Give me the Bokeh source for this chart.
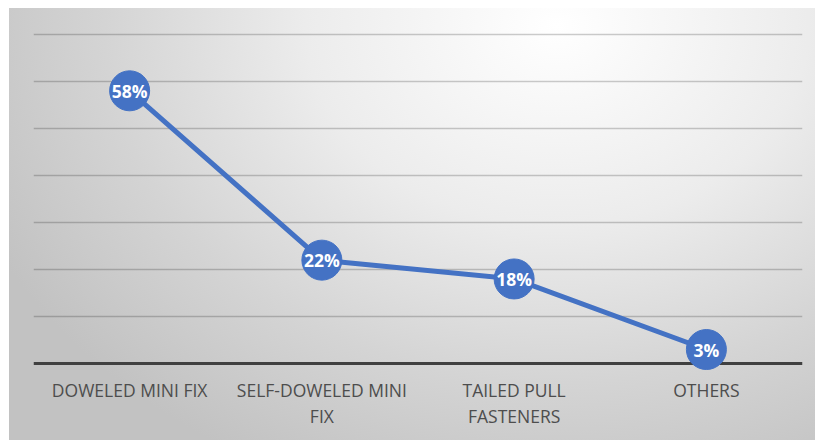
from bokeh.plotting import figure
from bokeh.models import ColumnDataSource, Range1d, FixedTicker, Span
from bokeh.core.properties import value
from bokeh.embed import file_html
from bokeh.resources import INLINE

# Share of each fastener type (percent)
categories = ["DOWELED MINI FIX", "SELF-DOWELED MINI\nFIX", "TAILED PULL\nFASTENERS", "OTHERS"]
shares = [58, 22, 18, 3]
grid_ticks = [10, 20, 30, 40, 50, 60, 70]

source = ColumnDataSource(dict(
    cat=categories,
    share=shares,
    label=[f"{v}%" for v in shares],
))

BLUE = "#4472C4"

panel_bg = {
    "background-color": "#ffffff",
    "background-image": "radial-gradient(ellipse 78% 115% at 68% 4%, #ffffff 0%, #ececec 40%, #d4d4d4 72%, #c2c2c2 100%)",
    "background-position": "9px 8px",
    "background-size": "806px 432px",
    "background-repeat": "no-repeat",
}

p = figure(
    width=815, height=440,
    x_range=categories,
    y_range=Range1d(-2.1, 75.5),
    y_axis_location=None,
    output_backend="svg",
    toolbar_location=None,
    min_border_left=33, min_border_right=13,
    min_border_top=8, min_border_bottom=67,
    styles=panel_bg,
)
p.background_fill_alpha = 0
p.border_fill_alpha = 0
p.outline_line_color = None
p.x_range.range_padding = 0

p.xgrid.visible = False
p.ygrid.ticker = FixedTicker(ticks=grid_ticks)
p.ygrid.grid_line_color = "#000000"
p.ygrid.grid_line_alpha = 0.2
p.ygrid.grid_line_width = 1.5

# baseline at zero, kept beneath the markers
baseline = Span(location=0, dimension="width", line_color="#404040",
                line_width=3, level="underlay")
p.add_layout(baseline)

ax = p.xaxis[0]
ax.axis_line_color = None
ax.major_tick_line_color = None
ax.minor_tick_line_color = None
ax.major_tick_out = 0
ax.major_tick_in = 0
ax.major_label_standoff = 4
ax.major_label_text_font = "Open Sans"
ax.major_label_text_font_size = "17.5px"
ax.major_label_text_color = "#4d4d4d"
ax.major_label_text_line_height = 1.12

p.line("cat", "share", source=source, line_color=BLUE, line_width=5)
p.scatter("cat", "share", source=source, size=40, fill_color=BLUE,
          line_color=BLUE)
p.text("cat", "share", text="label", source=source,
       text_font=value("Open Sans"), text_font_style="bold",
       text_font_size="17.5px", text_color="#ffffff",
       text_align="center", text_baseline="middle")

open("out.html", "w").write(file_html(p, INLINE))
